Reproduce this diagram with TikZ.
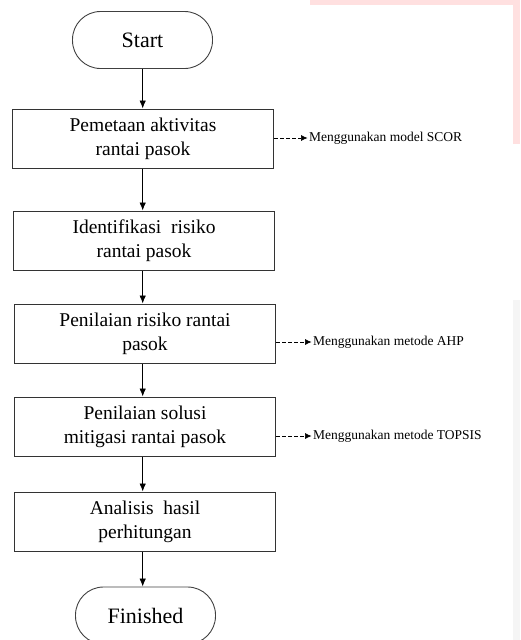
\documentclass[tikz,border=0pt]{standalone}
\usepackage{fontspec}
\setmainfont{Liberation Serif}
\usepackage{tikz}
\usetikzlibrary{
  arrows.meta,
  calc,
  positioning
}
\tikzset{>={Latex[length=8pt,width=6.5pt]}}
\tikzset{
  terminal/.style={draw=black!75, line width=0.9pt, rounded corners=28pt,
    minimum width=140pt, minimum height=57pt, font=\fontsize{22}{26}\selectfont},
  process/.style={draw=black!80, line width=1pt, minimum width=261pt,
    minimum height=59pt, align=center, font=\fontsize{19.5}{24}\selectfont},
  note/.style={anchor=west, inner sep=0pt, font=\fontsize{13.5}{15}\selectfont},
  flow/.style={->, line width=0.8pt},
  hint/.style={-{Latex[length=6.5pt,width=6pt]}, line width=0.6pt, dash pattern=on 3.5pt off 2.5pt}
}

\begin{document}
\begin{tikzpicture}[x=1pt, y=-1pt]
  \useasboundingbox (0,0) rectangle (520,640);
  % background marks of the page
  \fill[red!12] (310,0) rectangle (520,5);
  \fill[red!12] (513,0) rectangle (520,144);
  \fill[black!4] (513,300) rectangle (520,640);

  \node[terminal] (start) at (142.5,40) {Start};
  \node[process] (map) at (143,138.5) {Pemetaan aktivitas\\rantai pasok};
  \node[process] (ident) at (144,240.5) {Identifikasi \ risiko\\rantai pasok};
  \node[process] (assess) at (145,333.5) {Penilaian risiko rantai\\pasok};
  \node[process] (mitig) at (145,426.5) {Penilaian solusi\\mitigasi rantai pasok};
  \node[process] (anal) at (145,521.5) {Analisis \ hasil\\perhitungan};
  \node[terminal] (finish) at (145.5,615.5) {Finished};

  \node[note] (scor) at (309,138) {Menggunakan model SCOR};
  \node[note] (ahp) at (313,342) {Menggunakan metode AHP};
  \node[note] (topsis) at (313,436) {Menggunakan metode TOPSIS};

  \draw[flow] (start.south -| 142.7,0) -- (map.north -| 142.7,0);
  \draw[flow] (map.south -| 142.7,0) -- (ident.north -| 142.7,0);
  \draw[flow] (ident.south -| 142.7,0) -- (assess.north -| 142.7,0);
  \draw[flow] (assess.south -| 142.7,0) -- (mitig.north -| 142.7,0);
  \draw[flow] (mitig.south -| 142.7,0) -- (anal.north -| 142.7,0);
  \draw[flow] (anal.south -| 142.7,0) -- (finish.north -| 142.7,0);

  \draw[hint] (scor.west -| map.east) -- ([xshift=-1.5pt]scor.west);
  \draw[hint] (ahp.west -| assess.east) -- ([xshift=-1.5pt]ahp.west);
  \draw[hint] (topsis.west -| mitig.east) -- ([xshift=-1.5pt]topsis.west);
\end{tikzpicture}
\end{document}
